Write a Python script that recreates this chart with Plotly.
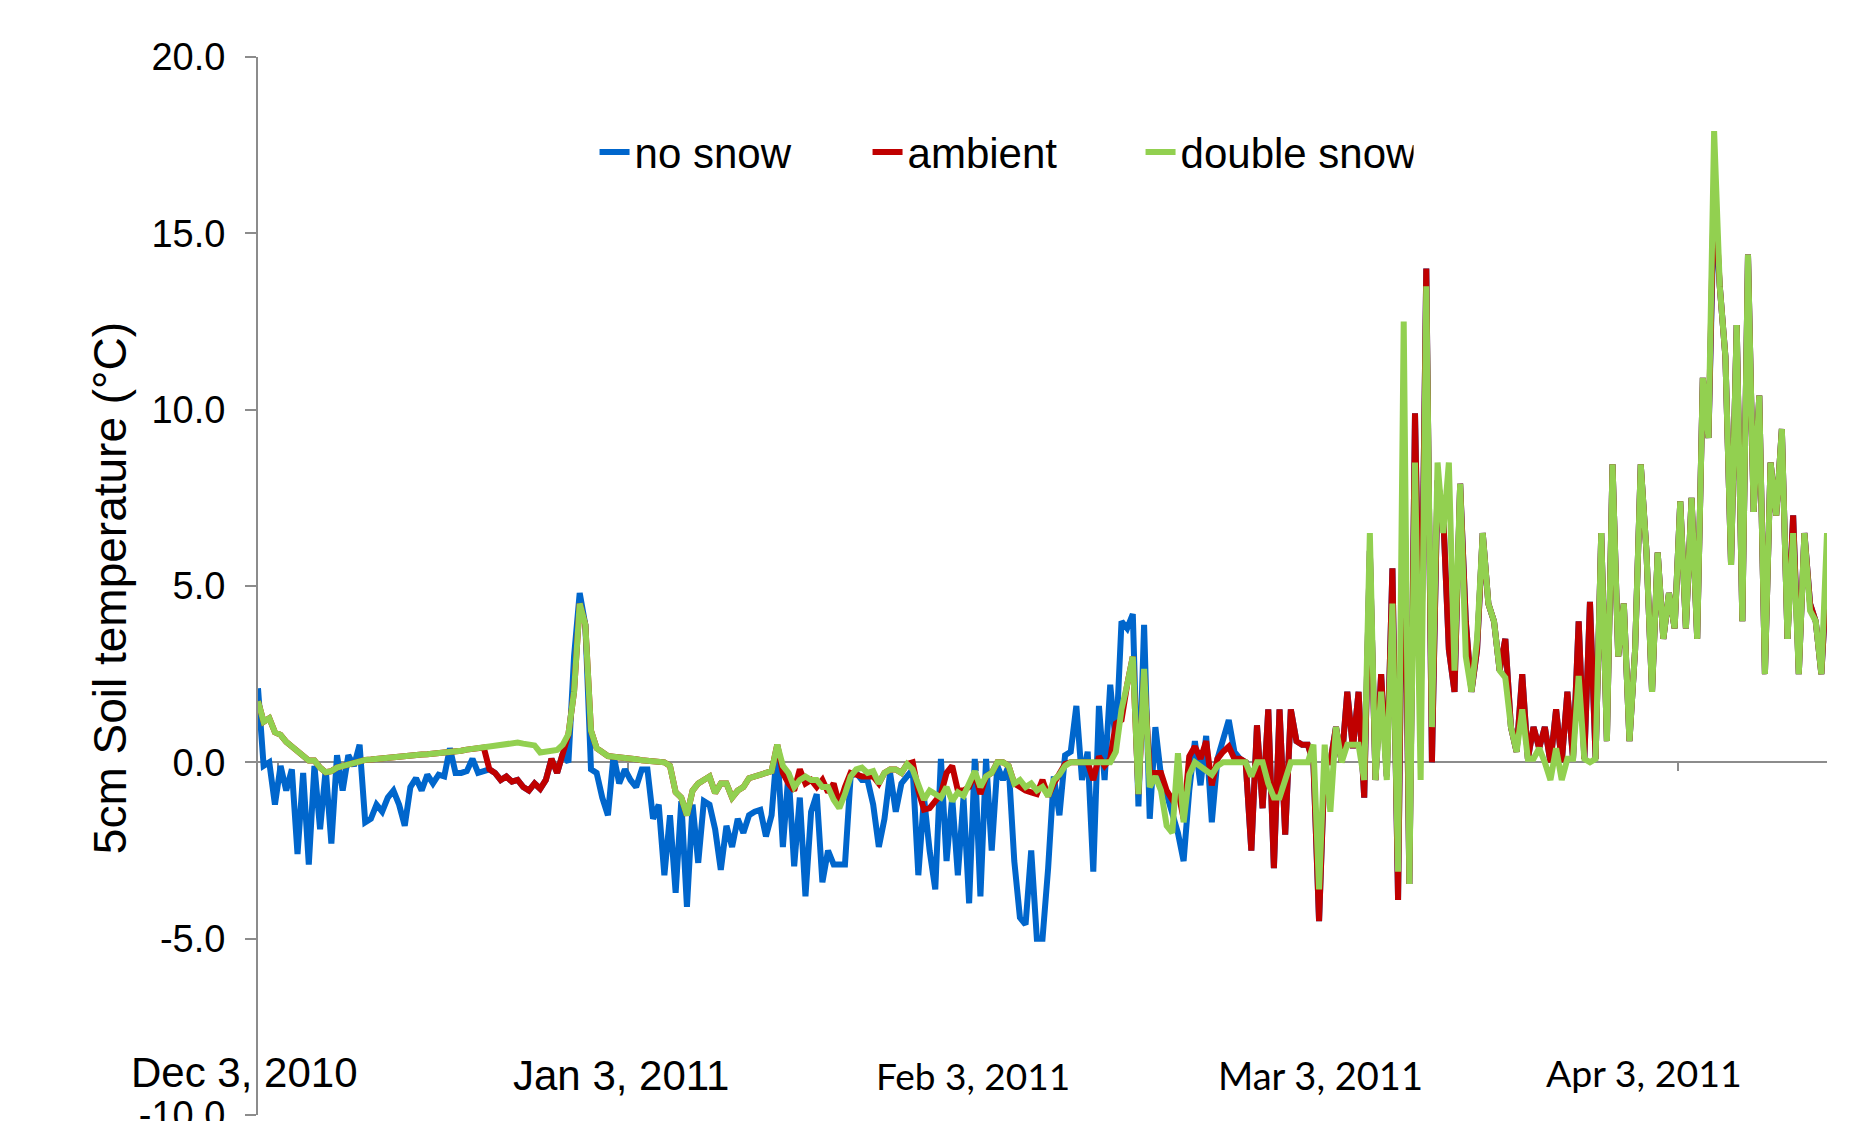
import pandas as pd
import plotly.graph_objects as go

# ---------------- data (12-hourly readings from 3 Dec 2010) ----------------
start_time = "2010-12-03 00:00"
step = "12h"

no_snow = [
    2.10, -0.10, 0.00, -1.20, -0.10, -0.80, -0.20, -2.60, -0.30, -2.90,
    -0.10, -1.90, -0.20, -2.30, 0.20, -0.80, 0.20, -0.10, 0.50, -1.70,
    -1.60, -1.20, -1.40, -1.00, -0.80, -1.20, -1.80, -0.70, -0.45, -0.80,
    -0.35, -0.60, -0.35, -0.40, 0.40, -0.30, -0.30, -0.25, 0.10, -0.30,
    -0.25, -0.20, -0.30, -0.50, -0.40, -0.55, -0.50, -0.70, -0.80, -0.60,
    -0.75, -0.50, 0.10, -0.30, 0.25, 0.00, 3.00, 4.80, 3.90, -0.20,
    -0.30, -1.00, -1.50, 0.20, -0.60, -0.20, -0.50, -0.70, -0.20, -0.20,
    -1.60, -1.20, -3.20, -1.50, -3.70, -1.10, -4.10, -1.20, -2.85, -1.10,
    -1.20, -1.90, -3.05, -1.80, -2.40, -1.60, -2.00, -1.50, -1.40, -1.35,
    -2.10, -1.50, 0.45, -2.40, -0.30, -2.95, -1.00, -3.80, -1.40, -0.90,
    -3.40, -2.50, -2.90, -2.90, -2.90, -0.40, -0.30, -0.50, -0.50, -1.20,
    -2.40, -1.60, -0.30, -1.40, -0.60, -0.40, -0.20, -3.20, -1.00, -2.50,
    -3.60, 0.10, -2.80, -1.00, -3.20, -1.00, -4.00, 0.10, -3.80, 0.10,
    -2.50, -0.10, -0.50, -0.10, -2.80, -4.40, -4.60, -2.50, -5.00, -5.00,
    -3.00, -0.40, -1.50, 0.20, 0.30, 1.60, -0.50, 0.30, -3.10, 1.60,
    -0.50, 2.20, 0.50, 4.00, 3.80, 4.20, -1.25, 3.90, -1.60, 1.00,
    -0.40, -0.90, -1.40, -2.00, -2.80, -0.80, 0.60, -0.65, 0.75, -1.70,
    0.10, 0.60, 1.20, 0.30, 0.10, 0.00, -2.50, 1.05, -1.30, 1.50,
    -3.00, 1.50, -2.05, 1.50, 0.60, 0.50, 0.50, 0.00, -4.50, 0.00,
    0.00, 1.00, 0.00, 2.00, 0.40, 2.00, -1.00, 6.00, -0.50, 2.50,
    -0.40, 5.50, -3.90, 9.50, -3.45, 9.90, 1.50, 14.00, 0.00, 8.00,
    7.00, 3.20, 2.00, 7.90, 4.00, 2.00, 3.20, 6.50, 4.50, 4.00,
    2.60, 3.50, 1.00, 0.30, 2.50, 0.10, 1.00, 0.40, 1.00, 0.00,
    1.50, 0.00, 2.00, 0.10, 4.00, 0.10, 4.55, 0.10, 6.50, 0.60,
    8.45, 3.00, 4.50, 0.60, 3.20, 8.45, 6.00, 2.00, 5.95, 3.50,
    4.80, 3.80, 7.40, 3.80, 7.50, 3.50, 10.90, 9.20, 16.00, 13.50,
    11.50, 5.60, 12.40, 4.00, 14.40, 7.10, 10.40, 2.50, 8.50, 7.00,
    9.45, 3.50, 7.00, 2.50, 6.50, 4.50, 4.00, 2.50, 5.40,
]

ambient = [
    1.73, 1.15, 1.25, 0.85, 0.78, 0.58, 0.45, 0.30, 0.15, 0.05,
    0.05, -0.15, -0.28, -0.25, -0.15, -0.10, -0.05, 0.00, 0.02, 0.07,
    0.08, 0.10, 0.11, 0.12, 0.13, 0.15, 0.17, 0.19, 0.20, 0.22,
    0.23, 0.24, 0.26, 0.27, 0.29, 0.31, 0.33, 0.36, 0.38, 0.40,
    0.42, -0.20, -0.30, -0.50, -0.40, -0.55, -0.50, -0.70, -0.80, -0.60,
    -0.75, -0.50, 0.10, -0.30, 0.25, 0.80, 2.00, 4.50, 3.90, 0.90,
    0.40, 0.28, 0.18, 0.16, 0.15, 0.14, 0.11, 0.09, 0.06, 0.04,
    0.00, 0.00, 0.00, -0.10, -0.85, -1.00, -1.50, -0.80, -0.60, -0.50,
    -0.40, -0.87, -0.60, -0.60, -1.00, -0.80, -0.70, -0.45, -0.40, -0.35,
    -0.30, -0.25, 0.50, -0.30, -0.60, -0.80, -0.20, -0.60, -0.50, -0.70,
    -0.50, -0.85, -0.60, -1.20, -0.70, -0.30, -0.35, -0.40, -0.40, -0.40,
    -0.60, -0.30, -0.20, -0.20, -0.30, -0.05, 0.00, -0.80, -1.34, -1.30,
    -1.10, -0.90, -0.30, -0.10, -0.80, -0.80, -0.70, -0.30, -0.90, -0.40,
    -0.30, 0.00, 0.00, -0.10, -0.60, -0.70, -0.80, -0.85, -0.90, -0.50,
    -0.96, -0.60, -0.30, -0.05, 0.00, 0.00, 0.00, 0.00, -0.50, 0.17,
    -0.10, 0.10, 1.10, 1.20, 2.20, 3.00, -0.90, 2.50, -0.30, -0.30,
    -0.30, -0.80, -1.06, -0.80, -1.60, 0.17, 0.45, 0.10, 0.60, -0.65,
    0.10, 0.30, 0.45, 0.10, 0.10, 0.00, -2.50, 1.05, -1.30, 1.50,
    -3.00, 1.50, -2.05, 1.50, 0.60, 0.50, 0.50, 0.00, -4.50, 0.00,
    0.00, 1.00, 0.00, 2.00, 0.40, 2.00, -1.00, 6.00, -0.50, 2.50,
    -0.40, 5.50, -3.90, 9.50, -3.45, 9.90, 1.50, 14.00, 0.00, 8.00,
    7.00, 3.20, 2.00, 7.90, 4.00, 2.00, 3.20, 6.50, 4.50, 4.00,
    2.60, 3.50, 1.00, 0.30, 2.50, 0.10, 1.00, 0.40, 1.00, 0.00,
    1.50, 0.00, 2.00, 0.10, 4.00, 0.10, 4.55, 0.10, 6.50, 0.60,
    8.45, 3.00, 4.50, 0.60, 3.20, 8.45, 6.00, 2.00, 5.95, 3.50,
    4.80, 3.80, 7.40, 3.80, 7.50, 3.50, 10.90, 9.20, 16.50, 13.50,
    11.50, 5.60, 12.40, 4.00, 14.40, 7.10, 10.40, 2.50, 8.50, 7.00,
    9.45, 3.50, 7.00, 2.50, 6.50, 4.50, 4.00, 2.50, 5.40,
]

double_snow = [
    1.73, 1.15, 1.25, 0.85, 0.78, 0.58, 0.45, 0.30, 0.15, 0.05,
    0.05, -0.15, -0.28, -0.25, -0.15, -0.10, -0.05, 0.00, 0.02, 0.07,
    0.08, 0.10, 0.11, 0.12, 0.13, 0.15, 0.17, 0.19, 0.20, 0.22,
    0.23, 0.24, 0.26, 0.27, 0.29, 0.31, 0.33, 0.36, 0.38, 0.40,
    0.42, 0.45, 0.48, 0.52, 0.54, 0.55, 0.56, 0.53, 0.50, 0.48,
    0.28, 0.30, 0.30, 0.35, 0.50, 0.80, 2.00, 4.50, 3.90, 0.90,
    0.40, 0.28, 0.18, 0.16, 0.15, 0.14, 0.11, 0.09, 0.06, 0.04,
    0.00, 0.00, 0.00, -0.10, -0.85, -1.00, -1.50, -0.80, -0.60, -0.50,
    -0.40, -0.87, -0.60, -0.60, -1.00, -0.80, -0.70, -0.45, -0.40, -0.35,
    -0.30, -0.25, 0.50, -0.10, -0.30, -0.70, -0.50, -0.40, -0.50, -0.50,
    -0.70, -0.70, -1.06, -1.30, -0.90, -0.40, -0.20, -0.15, -0.30, -0.25,
    -0.60, -0.30, -0.20, -0.20, -0.30, -0.05, -0.20, -0.60, -1.06, -0.80,
    -0.90, -1.00, -0.70, -1.10, -0.85, -0.95, -0.60, -0.25, -0.70, -0.40,
    -0.30, 0.00, 0.00, -0.10, -0.60, -0.50, -0.70, -0.60, -0.80, -0.70,
    -0.96, -0.50, -0.35, -0.10, 0.00, 0.00, 0.00, 0.00, 0.00, 0.00,
    0.00, 0.00, 0.30, 1.50, 2.20, 3.00, -0.90, 2.65, -0.70, -0.40,
    -0.80, -1.80, -2.00, 0.26, -1.70, -0.35, 0.00, -0.10, -0.20, -0.35,
    -0.10, 0.00, 0.00, 0.00, 0.00, 0.00, -0.40, 0.00, 0.00, -0.60,
    -1.00, -1.00, -0.50, 0.00, 0.00, 0.00, 0.00, 0.50, -3.60, 0.50,
    -1.40, 1.00, 0.00, 0.50, 0.50, 0.50, -0.50, 6.50, -0.50, 2.00,
    -0.50, 4.50, -3.10, 12.50, -3.45, 8.50, -0.50, 13.50, 1.00, 8.50,
    6.50, 8.50, 2.60, 7.90, 3.00, 2.00, 3.50, 6.50, 4.50, 4.00,
    2.60, 2.40, 1.00, 0.30, 1.50, 0.10, 0.10, 0.40, 0.00, -0.50,
    0.40, -0.50, 0.10, 0.10, 2.45, 0.10, 0.00, 0.10, 6.50, 0.60,
    8.45, 3.00, 4.50, 0.60, 3.20, 8.45, 6.00, 2.00, 5.95, 3.50,
    4.80, 3.80, 7.40, 3.80, 7.50, 3.50, 10.90, 9.20, 17.90, 13.50,
    11.50, 5.60, 12.40, 4.00, 14.40, 7.10, 10.40, 2.50, 8.50, 7.00,
    9.45, 3.50, 6.50, 2.50, 6.50, 4.30, 4.00, 2.50, 6.50,
]

series_names = ["no snow", "ambient", "double snow"]
series_colors = ["#0066CC", "#C00000", "#92D050"]

y_tick_values = [-10, -5, 0, 5, 10, 15, 20]
y_tick_labels = ["-10.0", "-5.0", "0.0", "5.0", "10.0", "15.0", "20.0"]

x_tick_values = ["2010-12-04 19:00", "2011-01-04 19:00", "2011-02-04 19:00",
                 "2011-03-07 19:00", "2011-04-07 19:00"]
date_labels = ["Dec 3, 2010", "Jan 3, 2011", "Feb 3, 2011", "Mar 3, 2011", "Apr 3, 2011"]
date_label_fonts = ["Liberation Sans, Arial", "Liberation Sans, Arial", "Lato", "Lato", "Lato"]
date_label_sizes = [42, 42, 37, 38, 37.5]
date_label_x = [-0.0083, 0.2312, 0.4554, 0.6775, 0.8832]
date_label_y = [0.0397, 0.0378, 0.0378, 0.0378, 0.0397]

x_range = ["2010-12-03 00:00", "2011-04-21 00:00"]
y_range = [-10.0, 20.0]
y_title = "5cm Soil temperature (°C)"

# ---------------- figure ----------------
AXIS_GREY = "#8C8C8C"
FONT = "Liberation Sans, Arial, sans-serif"

fig = go.Figure()
for name, vals, col in zip(series_names, [no_snow, ambient, double_snow], series_colors):
    x = pd.date_range(start_time, periods=len(vals), freq=step)
    fig.add_trace(go.Scatter(
        x=x, y=vals, mode="lines", name=name,
        line=dict(color=col, width=6),
    ))

zero_frac = (0 - y_range[0]) / (y_range[1] - y_range[0])

fig.update_layout(
    width=1861, height=1121,
    margin=dict(l=250, r=42, t=49, b=14, autoexpand=False),
    paper_bgcolor="white", plot_bgcolor="white",
    font=dict(family=FONT, color="black"),
    showlegend=True,
    legend=dict(
        orientation="h", x=0.2145, xanchor="left", y=0.91, yanchor="middle",
        font=dict(size=42, family=FONT, color="black"),
        entrywidth=228, entrywidthmode="pixels",
        bgcolor="rgba(0,0,0,0)", borderwidth=0, traceorder="normal",
    ),
    xaxis=dict(
        type="date", range=x_range,
        anchor="free", position=zero_frac,
        showgrid=False, zeroline=False,
        showline=True, linecolor=AXIS_GREY, linewidth=2,
        ticks="outside", ticklen=8, tickwidth=2, tickcolor=AXIS_GREY,
        tickvals=x_tick_values, showticklabels=False,
        layer="below traces",
    ),
    yaxis=dict(
        range=y_range, domain=[0, 1],
        tickvals=y_tick_values, ticktext=y_tick_labels,
        showgrid=False, zeroline=False,
        showline=True, linecolor=AXIS_GREY, linewidth=2,
        ticks="outside", ticklen=11, tickwidth=2, tickcolor=AXIS_GREY,
        tickfont=dict(size=38, family=FONT, color="black"),
        ticklabelstandoff=12, ticklabeloverflow="allow",
    ),
)

annotations = [dict(
    text=y_title, xref="paper", yref="paper", x=-0.0943, y=0.498,
    xanchor="center", yanchor="middle", textangle=-90, showarrow=False,
    font=dict(size=46, family=FONT, color="black"),
)]
for lab, fam, size, xp, yp in zip(date_labels, date_label_fonts, date_label_sizes,
                                  date_label_x, date_label_y):
    annotations.append(dict(
        text=lab, xref="paper", yref="paper", x=xp, y=yp,
        xanchor="center", yanchor="middle", showarrow=False,
        font=dict(size=size, family=fam, color="black"),
    ))
fig.update_layout(annotations=annotations)

fig.write_html("out.html")
